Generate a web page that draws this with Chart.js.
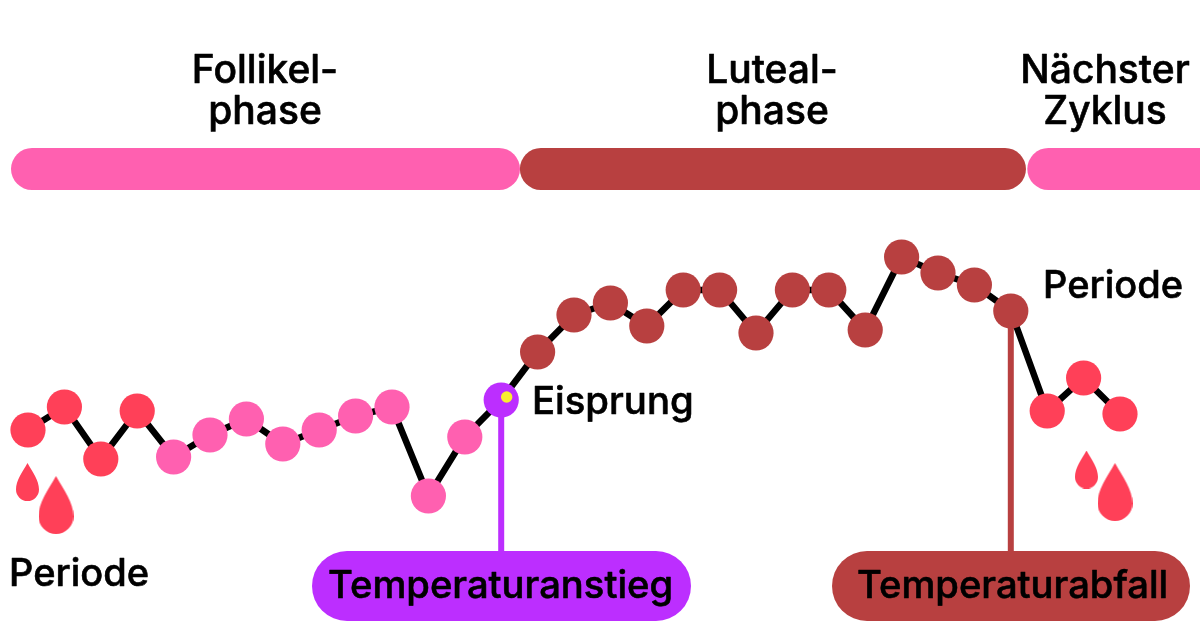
<!DOCTYPE html>
<html>
<head>
<meta charset="utf-8">
<style>
  html, body { margin: 0; background: #fff; }
  canvas { display: block; }
</style>
<script src="https://cdn.jsdelivr.net/npm/chart.js@4"></script>
</head>
<body>
<canvas id="cycle" width="1200" height="643"></canvas>
<script>
const days = [1, 2, 3, 4, 5, 6, 7, 8, 9, 10, 11, 12, 13, 14, 15, 16, 17, 18, 19, 20, 21, 22, 23, 24, 25, 26, 27, 28, 29, 30, 31];
const temperature = [213, 236, 184, 232, 186, 208, 224, 199, 213, 227, 236, 147, 206, 243, 291, 328, 340, 317, 353, 353, 310, 353, 353, 313, 386, 370, 358, 332, 232, 265, 229];
const phases = ["period", "period", "period", "period", "follicular", "follicular", "follicular", "follicular", "follicular", "follicular", "follicular", "follicular", "follicular", "ovulation", "luteal", "luteal", "luteal", "luteal", "luteal", "luteal", "luteal", "luteal", "luteal", "luteal", "luteal", "luteal", "luteal", "luteal", "period", "period", "period"];

const colours = { period: "#ff4058", follicular: "#ff60b0", ovulation: "#bc2eff", luteal: "#b84040" };

// top bars, start and end day of the straight part
const follicularBar = [1.11, 13.94];
const lutealBar = [15.09, 27.84];
const nextBar = [29.03, 34];

const riseDay = 14;
const fallDay = 28;

const xMin = 1 - 28 / 36.4;
const xMax = xMin + 1200 / 36.4;

function dayAt(px) { return xMin + px / 36.4; }

function makeDrop(w, h) {
  const c = document.createElement("canvas");
  c.width = w;
  c.height = h;
  const ctx = c.getContext("2d");
  const r = w / 2;
  ctx.fillStyle = colours.period;
  ctx.beginPath();
  ctx.moveTo(r, 0);
  ctx.bezierCurveTo(r + r * 0.45, h * 0.24, w, h * 0.46, w, h - r);
  ctx.arc(r, h - r, r, 0, Math.PI);
  ctx.bezierCurveTo(0, h * 0.46, r - r * 0.45, h * 0.24, r, 0);
  ctx.fill();
  return c;
}

const smallDrop = makeDrop(23, 38);
const bigDrop = makeDrop(35, 58);

const labels = [
  { text: "Follikel-", x: 265, y: 83, align: "center", size: 39 },
  { text: "phase", x: 265, y: 124, align: "center", size: 39 },
  { text: "Luteal-", x: 772, y: 83, align: "center", size: 39 },
  { text: "phase", x: 772, y: 124, align: "center", size: 39 },
  { text: "Nächster", x: 1105, y: 83, align: "center", size: 39 },
  { text: "Zyklus", x: 1105, y: 124, align: "center", size: 39 },
  { text: "Periode", x: 9, y: 586, align: "left", size: 38 },
  { text: "Periode", x: 1043, y: 298, align: "left", size: 38 },
  { text: "Eisprung", x: 532, y: 414, align: "left", size: 38.3 },
  { text: "Temperaturanstieg", x: 328, y: 598, align: "left", size: 38.2 },
  { text: "Temperaturabfall", x: 857, y: 598, align: "left", size: 38.2 }
];

const textPlugin = {
  id: "textPlugin",
  afterDraw(chart) {
    const ctx = chart.ctx;
    ctx.save();
    ctx.fillStyle = "#000";
    ctx.strokeStyle = "#000";
    ctx.lineWidth = 0.6;
    ctx.lineJoin = "round";
    ctx.textBaseline = "alphabetic";
    labels.forEach(function (l) {
      ctx.font = "500 " + l.size + "px Inter, 'Liberation Sans', sans-serif";
      ctx.textAlign = l.align;
      ctx.fillText(l.text, l.x, l.y);
      ctx.strokeText(l.text, l.x, l.y);
    });
    ctx.restore();
  }
};

function band(from, to, height, colour, order) {
  return {
    type: "line",
    data: [{ x: from, y: height }, { x: to, y: height }],
    borderColor: colour,
    borderWidth: 42,
    borderCapStyle: "round",
    pointRadius: 0,
    order: order
  };
}

function pill(fromPx, toPx, colour) {
  return {
    type: "line",
    data: [{ x: dayAt(fromPx), y: 57 }, { x: dayAt(toPx), y: 57 }],
    borderColor: colour,
    borderWidth: 70,
    borderCapStyle: "round",
    pointRadius: 0,
    order: 8
  };
}

function stem(day, top, colour) {
  return {
    type: "line",
    data: [{ x: day, y: top }, { x: day, y: 92 }],
    borderColor: colour,
    borderWidth: 6,
    pointRadius: 0,
    order: 6
  };
}

const chart = new Chart(document.getElementById("cycle"), {
  type: "line",
  data: {
    datasets: [
      {
        label: "Temperatur",
        data: days.map((d, i) => ({ x: d, y: temperature[i] })),
        borderColor: "#000",
        borderWidth: 6.5,
        tension: 0,
        pointRadius: 17.6,
        pointBorderWidth: 0,
        pointBackgroundColor: phases.map((p) => colours[p]),
        order: 2
      },
      {
        type: "scatter",
        data: [{ x: 14.15, y: 246 }],
        pointRadius: 5.7,
        pointBorderWidth: 0,
        pointBackgroundColor: "#f8f02e",
        order: 1
      },
      {
        type: "scatter",
        data: [{ x: dayAt(27.5), y: 161 }, { x: dayAt(1086.5), y: 173.5 }],
        pointStyle: smallDrop,
        order: 3
      },
      {
        type: "scatter",
        data: [{ x: dayAt(56), y: 138 }, { x: dayAt(1115), y: 151 }],
        pointStyle: bigDrop,
        order: 3
      },
      stem(riseDay, temperature[riseDay - 1], colours.ovulation),
      stem(fallDay, temperature[fallDay - 1], colours.luteal),
      pill(347, 656, colours.ovulation),
      pill(867, 1155, colours.luteal),
      band(follicularBar[0], follicularBar[1], 474, colours.follicular, 9),
      band(lutealBar[0], lutealBar[1], 474, colours.luteal, 9),
      band(nextBar[0], nextBar[1], 474, colours.follicular, 9)
    ]
  },
  options: {
    responsive: false,
    animation: false,
    layout: { padding: 0, autoPadding: false },
    plugins: { legend: { display: false }, tooltip: { enabled: false }, title: { display: false } },
    scales: {
      x: { type: "linear", min: xMin, max: xMax, display: false },
      y: { min: 0, max: 643, display: false }
    }
  },
  plugins: [textPlugin]
});
</script>
</body>
</html>
